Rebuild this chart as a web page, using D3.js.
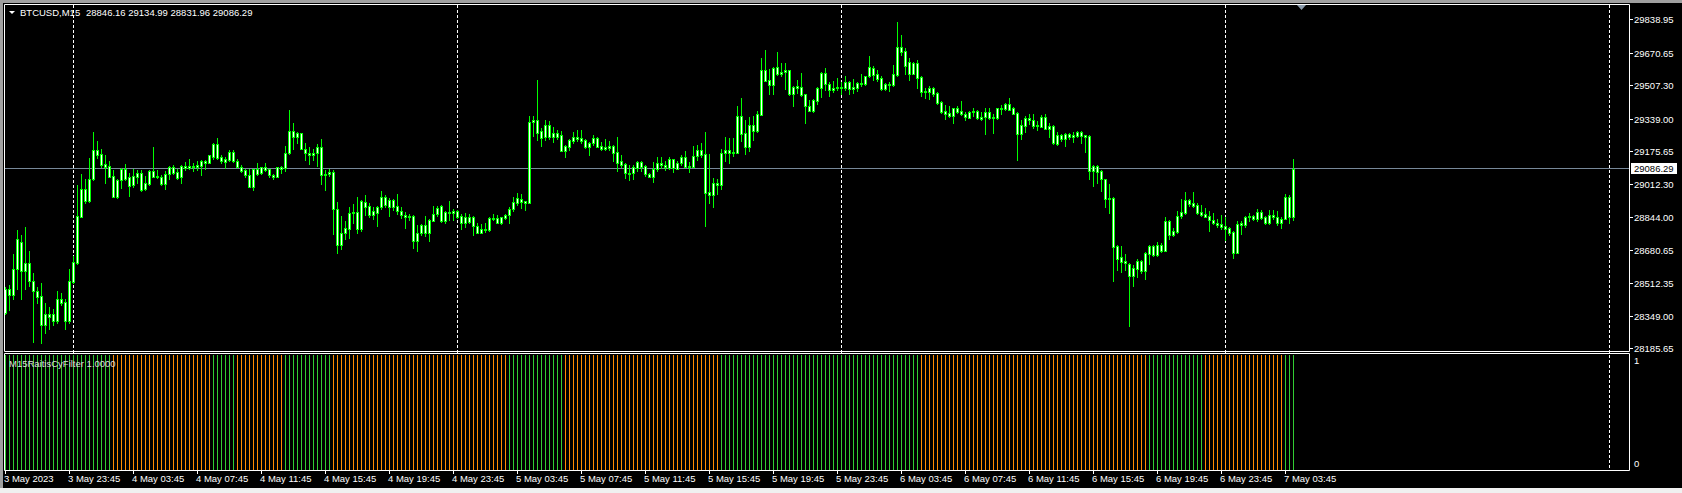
<!DOCTYPE html>
<html>
<head>
<meta charset="utf-8">
<script src="https://cdn.jsdelivr.net/npm/d3@7"></script>
<style>
  html, body { margin: 0; padding: 0; background: #000; }
  svg { display: block; }
  text { font-family: "Liberation Sans", Arial, sans-serif; font-size: 9.5px; fill: #fff; }
</style>
</head>
<body>
<script>
// chart data (BTCUSD M15, one value per bar)
var symbol = "BTCUSD,M15";

var open = [
28361,28482,28455,28582,28719,28575,28612,28525,28472,28448,
28301,28358,28358,28321,28432,28418,28324,28519,28612,28846,
28984,28927,29034,29181,29161,29111,29101,29051,28944,29031,
29087,29044,29004,29047,29064,28984,29010,29074,29044,29044,
29010,29061,29094,29071,29044,29101,29091,29101,29094,29101,
29124,29117,29145,29211,29145,29121,29131,29171,29124,29097,
29081,29057,28997,29084,29064,29094,29084,29057,29047,29094,
29091,29165,29275,29245,29265,29188,29168,29158,29165,29195,
29057,29061,29071,28884,28706,28763,28786,28863,28870,28786,
28920,28900,28856,28866,28894,28944,28897,28930,28900,28874,
28853,28843,28850,28723,28766,28803,28766,28826,28860,28900,
28823,28870,28863,28874,28850,28816,28846,28843,28800,28766,
28783,28780,28840,28840,28813,28840,28853,28887,28917,28937,
28924,28917,29322,29332,29275,29245,29305,29248,29265,29255,
29178,29198,29228,29245,29241,29231,29198,29215,29241,29201,
29188,29191,29201,29171,29124,29111,29067,29064,29091,29121,
29101,29061,29047,29084,29114,29107,29091,29135,29087,29114,
29145,29097,29097,29151,29181,29161,28970,28954,29014,29007,
29168,29181,29168,29168,29352,29265,29195,29305,29278,29358,
29583,29533,29506,29596,29564,29571,29581,29464,29494,29498,
29461,29401,29377,29427,29491,29568,29514,29484,29491,29498,
29491,29524,29487,29491,29518,29514,29551,29594,29561,29541,
29487,29511,29508,29558,29698,29678,29622,29564,29618,29548,
29471,29474,29491,29467,29421,29377,29367,29353,29391,29377,
29360,29343,29370,29377,29347,29347,29370,29347,29340,29387,
29387,29411,29391,29367,29260,29303,29340,29333,29307,29298,
29347,29288,29302,29211,29258,29238,29262,29245,29252,29272,
29255,29252,29077,29101,29077,29034,28937,28940,28699,28646,
28622,28609,28549,28585,28622,28575,28659,28699,28656,28703,
28676,28823,28756,28770,28850,28866,28930,28917,28904,28870,
28860,28850,28830,28813,28810,28800,28790,28770,28666,28813,
28803,28843,28850,28836,28870,28843,28813,28853,28843,28813,
28836,28944,28846.16];

var high = [
28495,28503,28659,28780,28754,28796,28676,28562,28495,28515,
28412,28394,28384,28472,28462,28435,28582,28649,29004,29061,
29034,29140,29272,29228,29185,29155,29128,29081,29034,29091,
29111,29064,29087,29081,29081,29051,29081,29195,29081,29054,
29074,29101,29104,29084,29107,29121,29135,29117,29124,29131,
29131,29158,29218,29241,29155,29148,29181,29181,29135,29104,
29087,29084,29087,29114,29097,29114,29087,29061,29097,29101,
29201,29382,29318,29272,29268,29215,29198,29188,29211,29235,
29081,29084,29081,28920,28850,28823,28897,28910,28947,28930,
28954,28914,28894,28900,28974,28954,28940,28937,28960,28894,
28870,28860,28853,28806,28810,28850,28836,28900,28900,28904,
28874,28924,28884,28880,28860,28863,28860,28850,28813,28810,
28813,28843,28860,28856,28846,28860,28894,28944,28964,28960,
28927,29352,29352,29533,29292,29332,29325,29295,29282,29278,
29208,29238,29272,29282,29282,29238,29221,29258,29245,29221,
29235,29228,29205,29245,29155,29117,29104,29107,29124,29124,
29107,29067,29121,29148,29145,29128,29145,29137,29124,29158,
29175,29121,29201,29205,29215,29272,29161,29041,29034,29188,
29245,29241,29241,29402,29442,29332,29345,29352,29376,29643,
29683,29586,29599,29673,29618,29618,29584,29501,29531,29568,
29464,29431,29437,29498,29571,29591,29521,29528,29541,29521,
29551,29528,29538,29524,29561,29554,29655,29601,29581,29551,
29518,29524,29608,29825,29759,29695,29642,29625,29632,29554,
29491,29501,29498,29471,29427,29407,29401,29394,29404,29427,
29374,29377,29391,29381,29374,29391,29394,29360,29394,29407,
29417,29441,29397,29374,29330,29350,29363,29363,29327,29357,
29362,29315,29305,29272,29262,29265,29265,29272,29275,29275,
29258,29255,29107,29104,29081,29037,29010,28944,28706,28699,
28659,28612,28605,28633,28629,28669,28706,28703,28719,28713,
28846,28830,28790,28874,28934,28970,28937,28970,28917,28904,
28890,28874,28866,28836,28853,28843,28796,28773,28823,28823,
28850,28863,28856,28887,28880,28850,28880,28880,28876,28843,
28960,28954,29134.99];

var low = [
28358,28378,28432,28482,28435,28482,28498,28219,28412,28214,
28261,28284,28301,28311,28403,28284,28314,28515,28609,28846,
28914,28922,29031,29140,29097,29017,29044,28944,28940,28990,
29031,28950,28997,29014,28977,28980,29005,29044,29039,29005,
28987,29034,29061,29034,29014,29081,29087,29077,29081,29054,
29087,29114,29137,29137,29117,29091,29128,29121,29094,29071,
29044,28994,28980,29054,29061,29077,29044,29037,29044,29067,
29077,29161,29188,29215,29185,29131,29111,29131,29101,29010,
28980,29051,28760,28666,28683,28736,28739,28813,28766,28776,
28856,28843,28833,28800,28887,28897,28850,28880,28860,28840,
28790,28830,28689,28676,28753,28749,28726,28823,28850,28820,
28816,28830,28830,28840,28786,28796,28813,28756,28763,28763,
28770,28776,28830,28813,28810,28833,28816,28877,28904,28890,
28880,28914,29252,29231,29201,29231,29238,29221,29238,29175,
29148,29181,29215,29228,29218,29191,29158,29208,29195,29181,
29181,29181,29128,29074,29094,29041,29031,29037,29077,29077,
29051,29044,29021,29077,29091,29081,29084,29071,29084,29107,
29094,29071,29094,29131,29148,28800,28914,28897,28960,28984,
29124,29117,29151,29165,29228,29161,29175,29231,29272,29355,
29526,29462,29462,29559,29554,29487,29457,29404,29467,29454,
29317,29377,29374,29414,29447,29484,29454,29471,29484,29464,
29484,29461,29467,29477,29504,29508,29548,29534,29528,29481,
29481,29477,29504,29554,29658,29561,29531,29561,29494,29454,
29444,29437,29454,29411,29367,29337,29347,29317,29367,29357,
29333,29340,29353,29337,29330,29263,29337,29267,29337,29363,
29381,29381,29360,29133,29236,29273,29313,29293,29283,29295,
29287,29248,29211,29205,29228,29201,29238,29221,29245,29218,
29171,29034,29000,29014,28977,28897,28866,28522,28579,28569,
28579,28298,28498,28542,28565,28535,28609,28649,28649,28669,
28673,28733,28749,28766,28840,28860,28900,28894,28860,28850,
28843,28776,28810,28796,28786,28729,28753,28639,28663,28760,
28796,28826,28830,28826,28836,28810,28810,28833,28806,28790,
28833,28816,28831.96];

var close = [
28482,28455,28582,28733,28575,28612,28525,28472,28445,28304,
28358,28344,28324,28432,28415,28324,28522,28619,28850,28984,
28927,29034,29181,29158,29107,29097,29047,28947,29031,29087,
29037,29000,29051,29064,28980,29014,29077,29044,29051,29010,
29061,29094,29067,29041,29101,29091,29101,29094,29104,29124,
29114,29155,29211,29141,29124,29135,29171,29124,29097,29077,
29057,28997,29084,29061,29094,29081,29054,29047,29094,29087,
29165,29275,29245,29268,29188,29165,29158,29168,29195,29057,
29061,29071,28884,28706,28763,28790,28863,28870,28786,28924,
28897,28856,28874,28894,28944,28904,28930,28897,28874,28853,
28843,28850,28723,28766,28803,28766,28830,28860,28890,28823,
28870,28863,28874,28843,28816,28846,28820,28800,28766,28783,
28780,28840,28836,28816,28843,28853,28887,28920,28940,28920,
28917,29322,29332,29268,29241,29305,29248,29265,29248,29178,
29201,29231,29245,29235,29228,29198,29215,29241,29198,29188,
29195,29201,29168,29117,29107,29067,29061,29094,29121,29097,
29061,29047,29087,29114,29104,29094,29135,29091,29114,29145,
29097,29101,29151,29181,29158,28967,28954,29014,29007,29168,
29181,29168,29171,29352,29262,29195,29305,29278,29362,29583,
29529,29506,29593,29563,29574,29581,29464,29498,29501,29457,
29404,29377,29431,29494,29568,29511,29484,29494,29498,29491,
29521,29487,29498,29518,29511,29551,29598,29558,29538,29487,
29511,29508,29561,29698,29675,29604,29564,29618,29544,29471,
29477,29491,29464,29417,29374,29363,29353,29391,29374,29360,
29347,29374,29377,29340,29337,29374,29343,29343,29391,29394,
29411,29384,29363,29260,29307,29340,29330,29303,29300,29347,
29288,29302,29215,29258,29238,29262,29245,29258,29272,29252,
29248,29077,29101,29071,29034,28937,28940,28696,28636,28619,
28612,28549,28589,28622,28575,28663,28699,28656,28703,28676,
28823,28756,28773,28850,28870,28930,28910,28900,28866,28856,
28846,28830,28813,28803,28796,28786,28766,28666,28810,28803,
28843,28850,28833,28870,28840,28813,28853,28843,28813,28833,
28944,28846,29086.29];

// time axis labels, one every 16 bars
var timeLabels = ["3 May 2023", "3 May 23:45", "4 May 03:45", "4 May 07:45", "4 May 11:45",
  "4 May 15:45", "4 May 19:45", "4 May 23:45", "5 May 03:45", "5 May 07:45", "5 May 11:45",
  "5 May 15:45", "5 May 19:45", "5 May 23:45", "6 May 03:45", "6 May 07:45", "6 May 11:45",
  "6 May 15:45", "6 May 19:45", "6 May 23:45", "7 May 03:45"];
var labelStep = 16;

// price scale labels
var priceTicks = [29838.95, 29670.65, 29507.30, 29339.00, 29175.65, 29012.30,
  28844.00, 28680.65, 28512.35, 28349.00, 28185.65];

// day separators (bar index of first bar of each day)
var separatorBars = [17, 113, 209, 305, 401];
var shiftBar = 324;

// indicator: run lengths, alternating up (green) / down (orange), starting up
var filterName = "M15RaitisCyFilter 1.0000";
var filterRuns = [27, 25, 6, 12, 12, 44, 14, 39, 50, 57, 14, 20, 3];
var filterValue = 1;

// set the dimensions of the window
var width = 1682, height = 493;
var main = {left: 4, right: 1629, top: 4, bottom: 351};
var sub = {top: 353, bottom: 470};

var candleColor = "#00ff00",
    bullFill = "#ffffff",
    bearFill = "#ffffff",
    upColor = "#32cd32",
    downColor = "#ff8c00";

// set the ranges
var x = d3.scaleLinear().domain([0, 1]).range([5, 9]);
var y = d3.scaleLinear().domain([28185.65, 29838.95]).range([348.3, 19]);
var yInd = d3.scaleLinear().domain([0, 1]).range([470, 355]);

var svg = d3.select("body").append("svg")
    .attr("width", width)
    .attr("height", height);

svg.append("rect").attr("width", width).attr("height", height).attr("fill", "#000");

// window frame
svg.append("rect").attr("x", 0).attr("y", 0).attr("width", width).attr("height", 3).attr("fill", "#a0a0a0");
svg.append("rect").attr("x", 0).attr("y", 0).attr("width", 3).attr("height", height).attr("fill", "#a0a0a0");
svg.append("rect").attr("x", 0).attr("y", 488).attr("width", width).attr("height", 5).attr("fill", "#f0f0f0");

var col = function(i) { return Math.round(x(i)); };

// day separators
svg.selectAll(".sep")
    .data(separatorBars)
  .enter().append("line")
    .attr("class", "sep")
    .attr("x1", function(d) { return col(d) + 0.5; })
    .attr("x2", function(d) { return col(d) + 0.5; })
    .attr("y1", main.top + 1)
    .attr("y2", sub.bottom)
    .attr("stroke", "#fff")
    .attr("stroke-dasharray", "3,2");

// bid line
var bid = close[close.length - 1];
svg.append("line")
    .attr("x1", main.left + 1).attr("x2", main.right)
    .attr("y1", Math.floor(y(bid)) + 0.5).attr("y2", Math.floor(y(bid)) + 0.5)
    .attr("stroke", "#778899");

// candles
var bars = d3.range(open.length).map(function(i) {
  return {i: i, o: open[i], h: high[i], l: low[i], c: close[i]};
});

var candle = svg.append("g").selectAll("g")
    .data(bars)
  .enter().append("g");

candle.append("rect")
    .attr("x", function(d) { return col(d.i); })
    .attr("y", function(d) { return Math.round(y(d.h)); })
    .attr("width", 1)
    .attr("height", function(d) { return Math.round(y(d.l)) - Math.round(y(d.h)) + 1; })
    .attr("fill", candleColor);

candle.append("rect")
    .attr("x", function(d) { return col(d.i) - 1; })
    .attr("y", function(d) { return Math.round(y(Math.max(d.o, d.c))); })
    .attr("width", 3)
    .attr("height", function(d) { return Math.round(y(Math.min(d.o, d.c))) - Math.round(y(Math.max(d.o, d.c))) + 1; })
    .attr("fill", candleColor);

candle.filter(function(d) { return Math.round(y(Math.min(d.o, d.c))) - Math.round(y(Math.max(d.o, d.c))) >= 2; })
  .append("rect")
    .attr("x", function(d) { return col(d.i); })
    .attr("y", function(d) { return Math.round(y(Math.max(d.o, d.c))) + 1; })
    .attr("width", 1)
    .attr("height", function(d) { return Math.round(y(Math.min(d.o, d.c))) - Math.round(y(Math.max(d.o, d.c))) - 1; })
    .attr("fill", function(d) { return d.c >= d.o ? bullFill : bearFill; });

// indicator histogram
var filterState = [];
filterRuns.forEach(function(n, k) {
  for (var j = 0; j < n; j++) filterState.push(k % 2 === 0 ? "up" : "down");
});

svg.append("g").selectAll("rect")
    .data(filterState)
  .enter().append("rect")
    .attr("x", function(d, i) { return col(i); })
    .attr("y", yInd(filterValue))
    .attr("width", 1)
    .attr("height", yInd(0) - yInd(filterValue))
    .attr("fill", function(d) { return d === "up" ? upColor : downColor; });

// panel borders
var border = svg.append("g").attr("stroke", "#fff").attr("fill", "none");
border.append("path")
    .attr("d", "M" + (main.left + 0.5) + "," + (main.bottom + 0.5) + "V" + (main.top + 0.5) +
               "H" + (main.right + 0.5) + "V" + (main.bottom + 0.5) + "H" + (main.left + 0.5));
border.append("path")
    .attr("d", "M" + (main.left + 0.5) + "," + (sub.top + 0.5) + "H" + (main.right + 0.5) +
               "V" + (sub.bottom + 0.5) + "H" + (main.left + 0.5) + "Z");

// chart shift marker
var sx = col(shiftBar);
svg.append("path")
    .attr("d", "M" + (sx - 4) + "," + (main.top + 1) + "L" + (sx + 5) + "," + (main.top + 1) + "L" + (sx + 0.5) + "," + (main.top + 6) + "Z")
    .attr("fill", "#8a9aaa");

// price scale
var pAxis = svg.append("g");
pAxis.selectAll("line")
    .data(priceTicks)
  .enter().append("line")
    .attr("x1", main.right + 1).attr("x2", main.right + 4)
    .attr("y1", function(d) { return Math.round(y(d)) + 0.5; })
    .attr("y2", function(d) { return Math.round(y(d)) + 0.5; })
    .attr("stroke", "#fff");
pAxis.selectAll("text")
    .data(priceTicks)
  .enter().append("text")
    .attr("x", main.right + 5)
    .attr("y", function(d) { return Math.round(y(d)) + 4; })
    .text(function(d) { return d.toFixed(2); });

// bid price label
svg.append("rect")
    .attr("x", main.right + 2).attr("y", Math.floor(y(bid)) - 5)
    .attr("width", 46).attr("height", 11)
    .attr("fill", "#fff");
svg.append("text")
    .attr("x", main.right + 5).attr("y", Math.floor(y(bid)) + 4)
    .style("fill", "#000")
    .text(bid.toFixed(2));

// indicator scale
svg.append("text").attr("x", main.right + 5).attr("y", 364).text(filterValue);
svg.append("text").attr("x", main.right + 5).attr("y", 467).text(0);

// time axis
var tAxis = svg.append("g");
tAxis.selectAll("line")
    .data(timeLabels)
  .enter().append("line")
    .attr("x1", function(d, k) { return col(k * labelStep) + 0.5; })
    .attr("x2", function(d, k) { return col(k * labelStep) + 0.5; })
    .attr("y1", sub.bottom + 1).attr("y2", sub.bottom + 4)
    .attr("stroke", "#fff");
tAxis.selectAll("text")
    .data(timeLabels)
  .enter().append("text")
    .attr("x", function(d, k) { return col(k * labelStep) - 1; })
    .attr("y", 482)
    .text(function(d) { return d; });

// header
svg.append("path").attr("d", "M9,11L15,11L12,14Z").attr("fill", "#fff");
var last = bars[bars.length - 1];
svg.append("text").attr("x", 20).attr("y", 16).text(symbol);
svg.append("text").attr("x", 86).attr("y", 16)
    .text([last.o, last.h, last.l, last.c].map(function(v) { return v.toFixed(2); }).join(" "));

svg.append("text").attr("x", 9).attr("y", 367).style("fill", "#dcdcdc").text(filterName);
</script>
</body>
</html>
